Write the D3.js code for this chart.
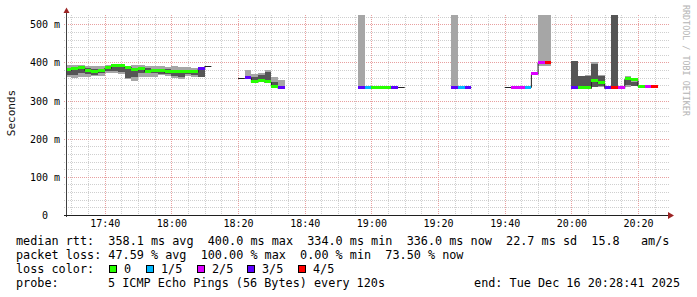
<!DOCTYPE html>
<html>
<head>
<meta charset="utf-8">
<script src="https://cdn.jsdelivr.net/npm/d3@7"></script>
<style>
  body { margin: 0; background: #fff; }
  svg { display: block; }
  text { font-family: "DejaVu Sans Mono", monospace; }
</style>
</head>
<body>
<svg width="697" height="297"></svg>
<script>
// 2-minute probe bins (start time), median rtt in ms, lost pings out of 5 (5 = all lost)
const binTimes = [
  "17:28", "17:30", "17:32", "17:34", "17:36", "17:38", "17:40", "17:42", "17:44", "17:46", "17:48",
  "17:50", "17:52", "17:54", "17:56", "17:58", "18:00", "18:02", "18:04", "18:06", "18:08", "18:10",
  "18:20", "18:22", "18:24", "18:26", "18:28", "18:30", "18:32",
  "18:56", "18:58", "19:00", "19:02", "19:04", "19:06", "19:08",
  "19:24", "19:26", "19:28",
  "19:40", "19:42", "19:44", "19:46", "19:48", "19:50", "19:52",
  "20:00", "20:02", "20:04", "20:06", "20:08", "20:10", "20:12", "20:14", "20:16", "20:18", "20:20", "20:22", "20:24"
];
const medians = [
  381, 383, 387, 379, 376, 379, 386, 393, 391, 387, 381,
  385, 377, 380, 379, 376, 377, 377, 376, 375, 383, 390,
  358, 360, 349, 353, 349, 338, 333,
  335, 335, 335, 335, 335, 335, 335,
  333, 335, 335,
  335, 335, 334, 335, 371, 401, 401,
  333, 333, 333, 352, 347, 334, 334, 334, 357, 354, 337, 337, 336
];
const lossLevel = [
  0, 0, 0, 0, 0, 0, 0, 0, 0, 0, 0,
  0, 0, 0, 0, 0, 0, 0, 0, 0, 3, 5,
  5, 3, 0, 0, 0, 0, 3,
  3, 1, 0, 0, 0, 3, 5,
  3, 1, 3,
  5, 2, 2, 1, 2, 2, 4,
  3, 0, 0, 0, 0, 3, 4, 2, 0, 0, 0, 2, 4
];
// outer smoke (light grey) and inner smoke (dark grey) ranges, ms
const smokeLo = [
  362, 360, 361, 363, 364, 365, 372, 372, 371, 357, 352,
  361, 361, 362, 366, 365, 360, 357, 365, 363, null, null,
  null, 362, 349, 353, 348, 340, 336,
  335, null, null, null, null, null, null,
  335, null, null,
  null, null, null, null, 334.5, 390, 390,
  null, null, 334, 336, 335, null, null, null, 335, 338, null, null, null
];
const smokeHi = [
  393, 394, 393, 391, 390, 391, 392, 394, 393, 391, 393,
  392, 390, 391, 390, 387, 390, 389, 388, 386, null, null,
  null, 381, 370, 373, 380, 363, 354,
  600, null, null, null, null, null, null,
  600, null, null,
  null, null, null, null, 336.5, 600, 600,
  null, null, 368, 402, 366, null, null, null, 364, 358, null, null, null
];
const coreLo = [
  366, 366, 372, 369, 368, 372, 377, 378, 376, 360, 362,
  372, 372, 372, 370, 370, 364, 362, 369, 368, 362, null,
  null, null, 351, 355, 350, 340, null,
  null, null, null, null, null, null, null,
  null, null, null,
  null, null, null, null, null, null, null,
  334, 334, 334, 336, 337, null, 334, null, 341, 338, null, null, null
];
const coreHi = [
  386, 384, 388, 386, 384, 384, 388, 392, 388, 388, 385,
  388, 385, 384, 384, 382, 380, 379, 380, 380, 380, null,
  null, null, 363, 367, 376, 350, null,
  null, null, null, null, null, null, null,
  null, null, null,
  null, null, null, null, null, null, null,
  403, 365, 365, 395, 364, null, 600, null, 357, 349, null, null, null
];

const lossColors = ["#26ff00", "#00b8ff", "#dd00ff", "#5e00ff", "#ff0000"];
const lossLabels = ["0", "1/5", "2/5", "3/5", "4/5"];
const yMajorTicks = [0, 100, 200, 300, 400, 500];
const xLabelTicks = ["17:40", "18:00", "18:20", "18:40", "19:00", "19:20", "19:40", "20:00", "20:20"];

const statLines = [
  "median rtt:  358.1 ms avg  400.0 ms max  334.0 ms min  336.0 ms now  22.7 ms sd  15.8   am/s",
  "packet loss: 47.59 % avg  100.00 % max  0.00 % min  73.50 % now"
];
const probeLabel = "probe:";
const probeText = "5 ICMP Echo Pings (56 Bytes) every 120s";
const endText = "end: Tue Dec 16 20:28:41 2025";

const day = "2025-12-16 ";
const parse = d3.utcParse("%Y-%m-%d %H:%M:%S");

const svg = d3.select("svg");
const plotLeft = 67, plotRight = 667, plotTop = 15, plotBottom = 215;

const x = d3.scaleUtc()
  .domain([parse(day + "17:28:41"), parse(day + "20:28:41")])
  .range([plotLeft, plotRight]);
const y = d3.scaleLinear().domain([0, 524.4]).range([plotBottom, plotTop]);

const bins = binTimes.map(function(t, i) {
  const t0 = parse(day + t + ":00");
  return {
    t0: t0,
    t1: d3.utcMinute.offset(t0, 2),
    median: medians[i],
    loss: lossLevel[i],
    lo: smokeLo[i], hi: smokeHi[i],
    clo: coreLo[i], chi: coreHi[i]
  };
});

// grid
const grid = svg.append("g");
const minorTimes = x.ticks(d3.utcMinute.every(5));
const majorTimes = xLabelTicks.map(function(t) { return parse(day + t + ":00"); });
const isMajorT = function(d) { return d.getUTCMinutes() % 20 === 0; };

grid.selectAll(".vgrid")
  .data(minorTimes)
  .enter()
  .append("line")
  .attr("x1", function(d) { return Math.round(x(d)) + 0.5; })
  .attr("x2", function(d) { return Math.round(x(d)) + 0.5; })
  .attr("y1", plotTop)
  .attr("y2", plotBottom + 2)
  .attr("stroke", function(d) { return isMajorT(d) ? "#e8a0a0" : "#cfcfcf"; })
  .attr("stroke-dasharray", "1,1");

const minorVals = d3.range(20, 524, 20);
grid.selectAll(".hgrid")
  .data(minorVals)
  .enter()
  .append("line")
  .attr("x1", plotLeft - 3)
  .attr("x2", plotRight + 2)
  .attr("y1", function(d) { return Math.round(y(d)) + 0.5; })
  .attr("y2", function(d) { return Math.round(y(d)) + 0.5; })
  .attr("stroke", function(d) { return d % 100 === 0 ? "#e8a0a0" : "#cfcfcf"; })
  .attr("stroke-dasharray", "1,1");

// data
svg.append("clipPath").attr("id", "plot")
  .append("rect").attr("x", plotLeft).attr("y", plotTop)
  .attr("width", plotRight - plotLeft).attr("height", plotBottom - plotTop);
const plot = svg.append("g").attr("clip-path", "url(#plot)");

plot.selectAll(".smoke")
  .data(bins.filter(function(d) { return d.lo != null; }))
  .enter()
  .append("rect")
  .attr("x", function(d) { return x(d.t0); })
  .attr("width", function(d) { return x(d.t1) - x(d.t0); })
  .attr("y", function(d) { return y(d.hi); })
  .attr("height", function(d) { return y(d.lo) - y(d.hi); })
  .attr("fill", "#a6a6a6")
  .attr("shape-rendering", "crispEdges");

plot.selectAll(".core")
  .data(bins.filter(function(d) { return d.clo != null; }))
  .enter()
  .append("rect")
  .attr("x", function(d) { return x(d.t0); })
  .attr("width", function(d) { return x(d.t1) - x(d.t0); })
  .attr("y", function(d) { return y(d.chi); })
  .attr("height", function(d) { return y(d.clo) - y(d.chi); })
  .attr("fill", "#555555")
  .attr("shape-rendering", "crispEdges");

// black median step line, one path per run of consecutive bins
const runs = [];
bins.forEach(function(d, i) {
  if (i > 0 && +bins[i - 1].t1 === +d.t0) runs[runs.length - 1].push(d);
  else runs.push([d]);
});
const stepLine = d3.line()
  .x(function(p) { return x(p[0]); })
  .y(function(p) { return Math.round(y(p[1])) + 0.5; })
  .curve(d3.curveStepAfter);
plot.selectAll(".median")
  .data(runs)
  .enter()
  .append("path")
  .attr("d", function(run) {
    const pts = run.map(function(d) { return [d.t0, d.median]; });
    const last = run[run.length - 1];
    pts.push([last.t1, last.median]);
    return stepLine(pts);
  })
  .attr("fill", "none")
  .attr("stroke", "#202020")
  .attr("stroke-width", 1);

plot.selectAll(".loss")
  .data(bins.filter(function(d) { return d.loss < 5; }))
  .enter()
  .append("rect")
  .attr("x", function(d) { return x(d.t0); })
  .attr("width", function(d) { return x(d.t1) - x(d.t0); })
  .attr("y", function(d) { return y(d.median) - 1.5; })
  .attr("height", 3)
  .attr("fill", function(d) { return lossColors[d.loss]; })
  .attr("shape-rendering", "crispEdges");

// axes lines and arrows
svg.append("line")
  .attr("x1", plotLeft - 0.5).attr("x2", plotLeft - 0.5)
  .attr("y1", plotBottom + 2).attr("y2", 10)
  .attr("stroke", "#404040");
svg.append("line")
  .attr("x1", plotLeft - 3).attr("x2", plotRight + 3)
  .attr("y1", plotBottom + 0.5).attr("y2", plotBottom + 0.5)
  .attr("stroke", "#202020");
svg.append("path")
  .attr("d", "M63.5,13 L69.5,13 L66.5,7.5 Z")
  .attr("fill", "#9c2424");
svg.append("path")
  .attr("d", "M668,212 L668,219 L674,215.5 Z")
  .attr("fill", "#9c2424");

// tick labels through d3 axes
const xAxis = svg.append("g")
  .attr("transform", "translate(0," + plotBottom + ")")
  .call(d3.axisBottom(x).tickValues(majorTimes).tickFormat(d3.utcFormat("%H:%M")).tickSize(0).tickPadding(5));
xAxis.select(".domain").remove();
xAxis.selectAll("text")
  .attr("font-family", "DejaVu Sans Mono")
  .attr("font-size", "10px")
  .attr("fill", "#000")
  .attr("dy", "0.71em");

const yAxis = svg.append("g")
  .attr("transform", "translate(" + (plotLeft - 7) + ",0)")
  .call(d3.axisLeft(y).tickValues(yMajorTicks)
    .tickFormat(function(d) { return d === 0 ? "0" : d + " m"; })
    .tickSize(0).tickPadding(0));
yAxis.select(".domain").remove();
yAxis.selectAll("text")
  .attr("font-family", "DejaVu Sans Mono")
  .attr("font-size", "10px")
  .attr("fill", "#000")
  .attr("dy", "0.35em")
  .attr("dx", function(d) { return d === 0 ? -12 : 0; });

svg.append("text")
  .attr("transform", "translate(15,113) rotate(-90)")
  .attr("text-anchor", "middle")
  .attr("font-family", "DejaVu Sans")
  .attr("font-size", "11px")
  .attr("fill", "#111")
  .text("Seconds");

svg.append("text")
  .attr("transform", "translate(683,5) rotate(90)")
  .attr("font-family", "DejaVu Sans")
  .attr("font-size", "8.4px")
  .attr("fill", "#b4b4b4")
  .text("RRDTOOL / TOBI OETIKER");

// legend
const legend = svg.append("g")
  .attr("font-family", "DejaVu Sans Mono")
  .attr("font-size", "11.8px")
  .attr("fill", "#000");
legend.selectAll(".stat")
  .data(statLines)
  .enter()
  .append("text")
  .attr("x", 16)
  .attr("y", function(d, i) { return 245 + i * 14; })
  .style("white-space", "pre")
  .text(function(d) { return d; });

legend.append("text").attr("x", 16).attr("y", 273).text("loss color:");
const boxX = [109, 146, 197, 247, 298];
const item = legend.selectAll(".lossItem")
  .data(lossLabels)
  .enter()
  .append("g");
item.append("rect")
  .attr("x", function(d, i) { return boxX[i] + 0.5; })
  .attr("y", 265.5)
  .attr("width", 7)
  .attr("height", 7)
  .attr("fill", function(d, i) { return lossColors[i]; })
  .attr("stroke", "#000");
item.append("text")
  .attr("x", function(d, i) { return boxX[i] + 15; })
  .attr("y", 273)
  .text(function(d) { return d; });

legend.append("text").attr("x", 16).attr("y", 287).text(probeLabel);
legend.append("text").attr("x", 108).attr("y", 287).text(probeText);
legend.append("text").attr("x", 680).attr("y", 287).attr("text-anchor", "end").text(endText);
</script>
</body>
</html>
